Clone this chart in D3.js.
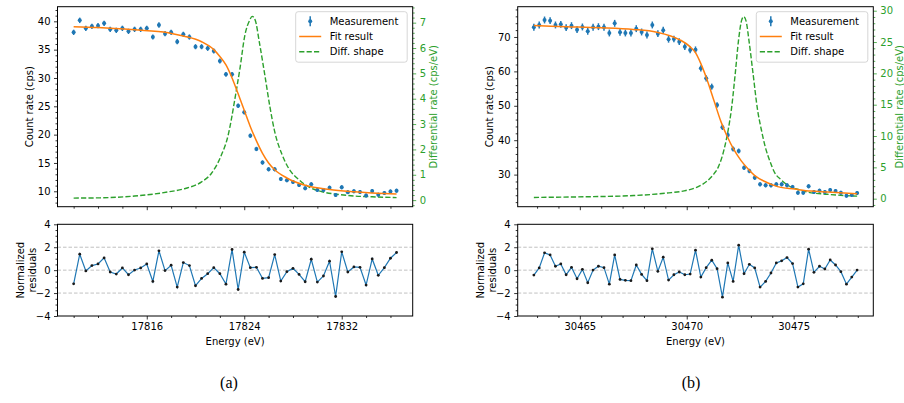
<!DOCTYPE html>
<html>
<head>
<meta charset="utf-8">
<script src="https://cdn.jsdelivr.net/npm/d3@7"></script>
<style>
  body { margin: 0; background: #fff; }
  svg text { font-family: "DejaVu Sans", sans-serif; }
</style>
</head>
<body>
<div id="chart"></div>
<script>
// ---- panel (a) data ----
const energiesA = [
  17810, 17810.5, 17811, 17811.5, 17812, 17812.5, 17813, 17813.5, 17814, 17814.5,
  17815, 17815.5, 17816, 17816.5, 17817, 17817.5, 17818, 17818.5, 17819, 17819.5,
  17820, 17820.5, 17821, 17821.5, 17822, 17822.5, 17823, 17823.5, 17824, 17824.5,
  17825, 17825.5, 17826, 17826.5, 17827, 17827.5, 17828, 17828.5, 17829, 17829.5,
  17830, 17830.5, 17831, 17831.5, 17832, 17832.5, 17833, 17833.5, 17834, 17834.5,
  17835, 17835.5, 17836, 17836.5
];
const countsA = [
  38.05, 40.17, 38.76, 39.11, 39.23, 39.64, 38.58, 38.41, 38.76, 38.23,
  38.58, 38.58, 38.76, 37.23, 39.35, 37.82, 38.05, 36.41, 37.70, 37.23,
  35.52, 35.52, 35.23, 34.76, 32.99, 30.64, 30.64, 25.10, 23.94, 19.82,
  17.47, 15.08, 13.88, 13.88, 12.17, 11.94, 11.64, 11.10, 10.53, 11.23,
  10.23, 10.23, 10.64, 9.35, 10.70, 9.85, 10.02, 9.88, 9.26, 10.05,
  9.41, 9.70, 9.97, 10.11
];
const errorsA = [
  0.47, 0.48, 0.47, 0.47, 0.47, 0.48, 0.47, 0.47, 0.47, 0.47,
  0.47, 0.47, 0.47, 0.46, 0.47, 0.46, 0.47, 0.46, 0.46, 0.46,
  0.45, 0.45, 0.45, 0.45, 0.44, 0.43, 0.43, 0.41, 0.40, 0.39,
  0.38, 0.38, 0.37, 0.37, 0.37, 0.36, 0.36, 0.36, 0.36, 0.36,
  0.36, 0.36, 0.36, 0.35, 0.36, 0.35, 0.36, 0.35, 0.35, 0.36,
  0.35, 0.35, 0.36, 0.36
];
const residualsA = [
  -1.19, 1.39, -0.07, 0.40, 0.54, 1.07, -0.16, -0.34, 0.19, -0.40,
  0.01, 0.19, 0.54, -0.98, 1.69, -0.04, 0.43, -1.48, 0.66, 0.40,
  -1.36, -0.72, -0.31, 0.22, -0.31, -1.22, 1.80, -1.69, 1.57, 0.22,
  0.25, -0.72, -0.66, 1.36, -0.95, -0.13, 0.16, -0.37, -1.01, 0.95,
  -1.04, -0.51, 0.78, -2.30, 1.60, -0.16, 0.28, 0.25, -1.30, 0.98,
  -0.45, 0.22, 1.04, 1.54
];
const fitEnergyA = [17810, 17812, 17815, 17817.75, 17819, 17820.5, 17821.5, 17822, 17822.5, 17823,
  17823.5, 17824, 17824.5, 17825, 17825.5, 17826, 17826.5, 17827.5, 17829, 17831, 17833, 17836.5];
const fitRateA = [39.05, 38.9, 38.5, 38.0, 37.4, 36.4, 35.0, 33.8, 32.3, 30.0,
  27.2, 24.3, 21.4, 18.9, 16.7, 15.0, 13.8, 12.35, 11.05, 10.3, 9.9, 9.5];
const diffEnergyA = [17810, 17812.2, 17815, 17816.6, 17817.7, 17819.1, 17820.5, 17821.3, 17822.1, 17822.7,
  17822.95, 17823.2, 17823.65, 17824.05, 17824.45, 17824.65, 17824.9, 17825.25, 17825.7, 17826.1,
  17826.5, 17827.1, 17827.65, 17828.5, 17829.3, 17830.4, 17831.8, 17833.1, 17834.5, 17836.5];
const diffRateA = [0.08, 0.09, 0.16, 0.24, 0.32, 0.45, 0.72, 1.05, 1.75, 2.6,
  3.2, 3.9, 5.2, 6.5, 7.1, 7.25, 7.1, 6.2, 4.9, 3.7,
  2.7, 1.8, 1.25, 0.8, 0.52, 0.33, 0.22, 0.16, 0.13, 0.1];
const xTicksA = [17816, 17824, 17832];

// ---- panel (b) data ----
const energiesB = [
  30462.85, 30463.10, 30463.35, 30463.61, 30463.86, 30464.11, 30464.36, 30464.61, 30464.87, 30465.12,
  30465.37, 30465.62, 30465.87, 30466.13, 30466.38, 30466.63, 30466.88, 30467.13, 30467.39, 30467.64,
  30467.89, 30468.14, 30468.39, 30468.65, 30468.90, 30469.15, 30469.40, 30469.65, 30469.91, 30470.16,
  30470.41, 30470.66, 30470.91, 30471.17, 30471.42, 30471.67, 30471.92, 30472.17, 30472.43, 30472.68,
  30472.93, 30473.18, 30473.43, 30473.69, 30473.94, 30474.19, 30474.44, 30474.69, 30474.95, 30475.20,
  30475.45, 30475.70, 30475.95, 30476.21, 30476.46, 30476.71, 30476.96, 30477.21, 30477.47, 30477.72,
  30477.97
];
const countsB = [
  72.81, 73.49, 74.94, 74.75, 73.49, 73.68, 72.71, 73.29, 72.13, 72.91,
  71.65, 72.81, 73.00, 72.81, 71.16, 73.97, 71.36, 71.16, 71.16, 72.42,
  71.45, 70.58, 73.49, 70.97, 71.94, 69.32, 69.42, 68.64, 67.19, 66.22,
  66.30, 60.89, 57.98, 55.56, 50.23, 43.74, 41.51, 37.44, 36.86, 32.01,
  31.05, 29.11, 27.17, 26.88, 26.88, 27.17, 27.17, 26.88, 26.40, 24.75,
  24.75, 26.59, 24.94, 25.33, 24.94, 25.52, 25.23, 24.75, 23.88, 24.07,
  24.65
];
const errorsB = [
  1.0, 1.0, 1.0, 1.0, 1.0, 1.0, 1.0, 1.0, 1.0, 1.0,
  1.0, 1.0, 1.0, 1.0, 1.0, 1.0, 1.0, 1.0, 1.0, 1.0,
  1.0, 1.0, 1.0, 1.0, 1.0, 0.97, 0.97, 0.97, 0.96, 0.95,
  0.95, 0.91, 0.89, 0.87, 0.83, 0.78, 0.75, 0.71, 0.71, 0.66,
  0.65, 0.63, 0.61, 0.61, 0.61, 0.61, 0.61, 0.61, 0.60, 0.58,
  0.58, 0.60, 0.58, 0.59, 0.58, 0.59, 0.59, 0.58, 0.57, 0.57,
  0.58
];
const residualsB = [
  -0.43, 0.19, 1.51, 1.33, 0.34, 0.54, -0.40, 0.25, -0.75, 0.07,
  -1.10, 0.01, 0.34, 0.22, -1.22, 1.33, -0.81, -0.89, -0.92, 0.45,
  -0.37, -0.92, 1.86, -0.10, 1.13, -0.87, -0.40, -0.16, -0.40, -0.34,
  1.74, -0.60, 0.22, 0.87, 0.13, -2.36, 0.63, -0.98, 2.18, -0.31,
  0.51, 0.19, -1.48, -0.98, -0.25, 0.63, 0.81, 1.10, 0.57, -1.48,
  -1.19, 1.83, -0.19, 0.34, 0.10, 0.89, 0.45, -0.13, -1.22, -0.60,
  0.01
];
const fitEnergyB = [30462.85, 30464.4, 30465.95, 30467.5, 30468.6, 30469.25, 30469.7, 30470.15, 30470.4, 30470.65,
  30470.95, 30471.3, 30471.6, 30471.9, 30472.2, 30472.55, 30472.85, 30473.25, 30473.65, 30474.25,
  30475.05, 30475.8, 30476.6, 30477.97];
const fitRateB = [73.3, 73.0, 72.7, 72.2, 71.4, 70.3, 69.1, 67.2, 65.5, 62.4,
  57.6, 51.0, 45.4, 41.0, 37.3, 34.0, 31.8, 29.4, 28.0, 26.5,
  25.8, 25.2, 24.95, 24.45];
const diffEnergyB = [30462.85, 30465.19, 30467.53, 30469.08, 30469.88, 30470.49, 30470.95, 30471.28, 30471.47, 30471.75,
  30471.94, 30472.08, 30472.27, 30472.43, 30472.57, 30472.67, 30472.78, 30472.92, 30473.09, 30473.32,
  30473.49, 30473.67, 30473.91, 30474.09, 30474.42, 30474.70, 30475.17, 30475.64, 30476.58, 30477.97];
const diffRateB = [0.2, 0.3, 0.5, 0.9, 1.25, 1.85, 2.8, 4.0, 5.0, 7.9,
  11.0, 14.0, 20.0, 25.5, 28.5, 29.05, 28.3, 25.0, 20.3, 14.0,
  11.0, 8.3, 5.8, 4.3, 3.0, 2.2, 1.5, 1.05, 0.7, 0.4];
const xTicksB = [30465, 30470, 30475];

const legendLabels = ["Measurement", "Fit result", "Diff. shape"];
const captions = ["(a)", "(b)"];

// colours (matplotlib tab10)
const blue = "#1f77b4", orange = "#ff7f0e", green = "#2ca02c";

const svg = d3.select("#chart").append("svg")
  .attr("width", 904)
  .attr("height", 403);

// vertical extents of the two stacked axes
const topY = [6.7, 206.7];
const resY = [224.3, 316];

// draw ticks with d3 axis, no domain line
function tickAxis(g, gen, values, size, withLabels, color) {
  g.call(gen.tickValues(values)
    .tickSize(size)
    .tickSizeOuter(0)
    .tickPadding(3.5)
    .tickFormat(withLabels ? d3.format("") : () => ""));
  g.select(".domain").remove();
  g.attr("font-size", 10).attr("font-family", "DejaVu Sans, sans-serif");
  g.selectAll(".tick line").attr("stroke", color).attr("stroke-width", 0.8);
  g.selectAll(".tick text").attr("fill", color);
}

function drawPanel(p) {
  const x = d3.scaleLinear().domain(p.xDomain).range([p.left, p.right]);
  const yC = d3.scaleLinear().domain(p.countDomain).range([topY[1], topY[0]]);
  const yD = d3.scaleLinear().domain(p.diffDomain).range([topY[1], topY[0]]);
  const yR = d3.scaleLinear().domain([-4, 4]).range([resY[1], resY[0]]);
  const g = svg.append("g");

  const notMajor = majors => v => !majors.some(m => Math.abs(m - v) < 1e-6);

  // --- top panel axes ---
  tickAxis(g.append("g").attr("transform", `translate(0,${topY[1]})`),
    d3.axisBottom(x), p.xTicks, 3.5, false, "#000");
  tickAxis(g.append("g").attr("transform", `translate(0,${topY[1]})`),
    d3.axisBottom(x), p.xMinor.filter(notMajor(p.xTicks)), 2, false, "#000");
  tickAxis(g.append("g").attr("transform", `translate(${p.left},0)`),
    d3.axisLeft(yC), p.countTicks, 3.5, true, "#000");
  tickAxis(g.append("g").attr("transform", `translate(${p.left},0)`),
    d3.axisLeft(yC), p.countMinor.filter(notMajor(p.countTicks)), 2, false, "#000");
  tickAxis(g.append("g").attr("transform", `translate(${p.right},0)`),
    d3.axisRight(yD), p.diffTicks, 3.5, true, green);
  tickAxis(g.append("g").attr("transform", `translate(${p.right},0)`),
    d3.axisRight(yD), p.diffMinor.filter(notMajor(p.diffTicks)), 2, false, green);

  // diff shape (green dashed)
  g.append("path")
    .datum(d3.zip(p.diffE, p.diffR))
    .attr("fill", "none")
    .attr("stroke", green)
    .attr("stroke-width", 1.4)
    .attr("stroke-dasharray", "5.2,2.2")
    .attr("d", d3.line().x(d => x(d[0])).y(d => yD(d[1])).curve(d3.curveMonotoneX));

  // measurements with error bars
  const pts = d3.zip(p.energies, p.counts, p.errors);
  g.append("g").selectAll("line")
    .data(pts)
    .join("line")
    .attr("x1", d => x(d[0])).attr("x2", d => x(d[0]))
    .attr("y1", d => yC(d[1] - d[2])).attr("y2", d => yC(d[1] + d[2]))
    .attr("stroke", blue)
    .attr("stroke-width", 1.5);
  g.append("g").selectAll("circle")
    .data(pts)
    .join("circle")
    .attr("cx", d => x(d[0]))
    .attr("cy", d => yC(d[1]))
    .attr("r", 2)
    .attr("fill", blue);

  // fit result
  g.append("path")
    .datum(d3.zip(p.fitE, p.fitR))
    .attr("fill", "none")
    .attr("stroke", orange)
    .attr("stroke-width", 1.5)
    .attr("d", d3.line().x(d => x(d[0])).y(d => yC(d[1])).curve(d3.curveMonotoneX));

  // frame
  g.append("rect")
    .attr("x", p.left).attr("y", topY[0])
    .attr("width", p.right - p.left).attr("height", topY[1] - topY[0])
    .attr("fill", "none").attr("stroke", "#000").attr("stroke-width", 1);

  // legend
  const lw = 111.5, lh = 50.5;
  const lx = p.right - 5.5 - lw, ly = topY[0] + 5;
  const leg = g.append("g").attr("transform", `translate(${lx},${ly})`);
  leg.append("rect")
    .attr("width", lw).attr("height", lh).attr("rx", 2.5)
    .attr("fill", "#fff").attr("fill-opacity", 0.8)
    .attr("stroke", "#cccccc").attr("stroke-width", 0.8);
  legendLabels.forEach((label, i) => {
    const cy = 9.5 + i * 15.3;
    const item = leg.append("g").attr("transform", `translate(0,${cy})`);
    if (i === 0) {
      item.append("line").attr("x1", 14.5).attr("x2", 14.5).attr("y1", -5).attr("y2", 5)
        .attr("stroke", blue).attr("stroke-width", 1.5);
      item.append("circle").attr("cx", 14.5).attr("cy", 0).attr("r", 2).attr("fill", blue);
    } else {
      item.append("line").attr("x1", 3.5).attr("x2", 25.5).attr("y1", 0).attr("y2", 0)
        .attr("stroke", i === 1 ? orange : green).attr("stroke-width", 1.5)
        .attr("stroke-dasharray", i === 2 ? "5.2,2.2" : null);
    }
    item.append("text")
      .attr("x", 34).attr("y", 0).attr("dy", "0.35em")
      .attr("font-size", 10).attr("fill", "#000")
      .text(label);
  });

  // y labels of the top panel
  const midTop = (topY[0] + topY[1]) / 2;
  g.append("text")
    .attr("transform", `translate(${p.left - 28.5},${midTop}) rotate(-90)`)
    .attr("text-anchor", "middle").attr("dy", "0.35em")
    .attr("font-size", 10).attr("fill", "#000")
    .text("Count rate (cps)");
  g.append("text")
    .attr("transform", `translate(${p.right + p.diffLabelGap},${midTop}) rotate(-90)`)
    .attr("text-anchor", "middle").attr("dy", "0.35em")
    .attr("font-size", 10).attr("fill", green)
    .text("Differential rate (cps/eV)");

  // --- residual panel ---
  g.append("g").selectAll("line")
    .data([-2, 0, 2])
    .join("line")
    .attr("x1", p.left).attr("x2", p.right)
    .attr("y1", d => yR(d)).attr("y2", d => yR(d))
    .attr("stroke", "#b0b0b0").attr("stroke-width", 0.8)
    .attr("stroke-dasharray", "3.5,2");

  tickAxis(g.append("g").attr("transform", `translate(0,${resY[1]})`),
    d3.axisBottom(x), p.xTicks, 3.5, true, "#000");
  tickAxis(g.append("g").attr("transform", `translate(0,${resY[1]})`),
    d3.axisBottom(x), p.xMinor.filter(notMajor(p.xTicks)), 2, false, "#000");
  tickAxis(g.append("g").attr("transform", `translate(${p.left},0)`),
    d3.axisLeft(yR), [-4, -2, 0, 2, 4], 3.5, true, "#000");
  tickAxis(g.append("g").attr("transform", `translate(${p.left},0)`),
    d3.axisLeft(yR), d3.range(-3.5, 4, 0.5).filter(notMajor([-4, -2, 0, 2, 4])), 2, false, "#000");

  const res = d3.zip(p.energies, p.residuals);
  g.append("path")
    .datum(res)
    .attr("fill", "none")
    .attr("stroke", blue)
    .attr("stroke-width", 1.2)
    .attr("d", d3.line().x(d => x(d[0])).y(d => yR(d[1])));
  g.append("g").selectAll("circle")
    .data(res)
    .join("circle")
    .attr("cx", d => x(d[0]))
    .attr("cy", d => yR(d[1]))
    .attr("r", 1.4)
    .attr("fill", "#1a1a1a");

  g.append("rect")
    .attr("x", p.left).attr("y", resY[0])
    .attr("width", p.right - p.left).attr("height", resY[1] - resY[0])
    .attr("fill", "none").attr("stroke", "#000").attr("stroke-width", 1);

  const midRes = (resY[0] + resY[1]) / 2;
  const rl = g.append("text")
    .attr("transform", `translate(${p.left - 37},${midRes}) rotate(-90)`)
    .attr("text-anchor", "middle")
    .attr("font-size", 10).attr("fill", "#000");
  rl.append("tspan").attr("x", 0).attr("dy", "0.35em").text("Normalized");
  rl.append("tspan").attr("x", 0).attr("dy", "1.2em").text("residuals");

  g.append("text")
    .attr("x", (p.left + p.right) / 2).attr("y", 344.5)
    .attr("text-anchor", "middle")
    .attr("font-size", 10).attr("fill", "#000")
    .text("Energy (eV)");

  g.append("text")
    .attr("x", p.captionX).attr("y", 388)
    .attr("text-anchor", "middle")
    .attr("font-size", 16)
    .attr("font-family", "Liberation Serif, serif")
    .style("font-family", "Liberation Serif, serif")
    .attr("fill", "#000")
    .text(p.caption);
}

drawPanel({
  left: 57.5, right: 412.7,
  xDomain: [17808.675, 17837.825],
  countDomain: [7.28, 42.58],
  diffDomain: [-0.26, 7.63],
  xTicks: xTicksA, xMinor: d3.range(17810, 17838, 2),
  countTicks: [10, 15, 20, 25, 30, 35, 40], countMinor: d3.range(8, 43, 1),
  diffTicks: [0, 1, 2, 3, 4, 5, 6, 7], diffMinor: d3.range(-0.2, 7.61, 0.2),
  diffLabelGap: 20.5,
  energies: energiesA, counts: countsA, errors: errorsA, residuals: residualsA,
  fitE: fitEnergyA, fitR: fitRateA, diffE: diffEnergyA, diffR: diffRateA,
  caption: captions[0], captionX: 229
});

drawPanel({
  left: 517.7, right: 873.3,
  xDomain: [30462.094, 30478.726],
  countDomain: [20.67, 78.8],
  diffDomain: [-1.28, 30.64],
  xTicks: xTicksB, xMinor: d3.range(30463, 30479, 1),
  countTicks: [30, 40, 50, 60, 70], countMinor: d3.range(22, 79, 2),
  diffTicks: [0, 5, 10, 15, 20, 25, 30], diffMinor: d3.range(-1, 31, 1),
  diffLabelGap: 26.5,
  energies: energiesB, counts: countsB, errors: errorsB, residuals: residualsB,
  fitE: fitEnergyB, fitR: fitRateB, diffE: diffEnergyB, diffR: diffRateB,
  caption: captions[1], captionX: 691
});
</script>
</body>
</html>
